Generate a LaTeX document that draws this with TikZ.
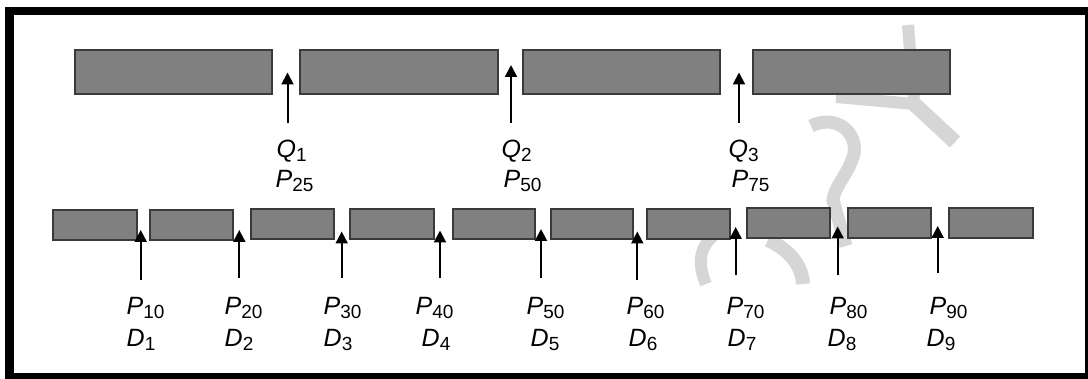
\documentclass[tikz,border=0pt]{standalone}
\usepackage{fontspec}
\setmainfont{Liberation Sans}
\usetikzlibrary{arrows.meta}

\definecolor{barfill}{HTML}{808080}
\definecolor{barline}{HTML}{3A3A3A}
\definecolor{wmgray}{HTML}{D6D6D6}

% italic letter with an upright, lowered index
\newcommand\idx[2]{\textit{#1}\raisebox{-4pt}{\fontsize{19}{19}\selectfont #2}}

\begin{document}
\begin{tikzpicture}[x=1pt,y=-1pt,
  bar/.style={draw=barline, fill=barfill, line width=1.6pt, inner sep=0pt,
              anchor=north west, minimum height=#1},
  bar/.default=30pt,
  arr/.style={line width=2pt, -{Triangle[width=12pt,length=12pt]}},
  lab/.style={anchor=base west, inner sep=0pt, font=\fontsize{25}{25}\selectfont},
  wm/.style={draw=wmgray, line width=14pt, line cap=butt}]

\useasboundingbox (0,0) rectangle (1088,379);

% frame
\fill[black] (5,7) rectangle (1088,379);
\fill[white] (14,15) rectangle (1085,373);

% faint background lettering
\draw[wm, line width=12pt] (908,25) -- (914,102);
\draw[wm, line width=12pt] (836,97) -- (914,104);
\draw[wm, line width=15pt] (912,102) -- (955,142);
\draw[wm, line width=13pt] (811,126) .. controls (840,112) and (862,138) .. (852,160)
      .. controls (846,176) and (834,188) .. (833,200) -- (846,246);
\draw[wm, line width=12pt] (713,236) .. controls (697,250) and (699,268) .. (706,284);
\draw[wm, line width=14pt] (768,240) .. controls (790,250) and (802,266) .. (803,284);

% quartile bars
\node[bar=44pt, minimum width=197pt] (t1) at (74,49) {};
\node[bar=44pt, minimum width=198pt] (t2) at (299,49) {};
\node[bar=44pt, minimum width=197pt] (t3) at (522,49) {};
\node[bar=44pt, minimum width=197pt] (t4) at (752,49) {};

% decile bars
\node[bar, minimum width=84pt] (b1)  at (52,209)  {};
\node[bar, minimum width=83pt] (b2)  at (149,209) {};
\node[bar, minimum width=83pt] (b3)  at (250,208) {};
\node[bar, minimum width=84pt] (b4)  at (349,208) {};
\node[bar, minimum width=82pt] (b5)  at (452,208) {};
\node[bar, minimum width=82pt] (b6)  at (550,208) {};
\node[bar, minimum width=83pt] (b7)  at (646,208) {};
\node[bar, minimum width=83pt] (b8)  at (746,207) {};
\node[bar, minimum width=83pt] (b9)  at (847,207) {};
\node[bar, minimum width=84pt] (b10) at (948,207) {};

% quartile cut points
\coordinate (q1s) at (287.5,123); \coordinate (q1e) at (287.5,72.5);
\coordinate (q2s) at (511,123);   \coordinate (q2e) at (511,65);
\coordinate (q3s) at (739,123);   \coordinate (q3e) at (739,72.5);
\draw[arr] (q1s) -- (q1e);
\draw[arr] (q2s) -- (q2e);
\draw[arr] (q3s) -- (q3e);

\node[lab] (lq1) at (276.5,158) {\idx{Q}{1}};
\node[lab] (lp25) at (275.5,188) {\idx{P}{25}};
\node[lab] (lq2) at (501.5,158) {\idx{Q}{2}};
\node[lab] (lp50a) at (503.5,188) {\idx{P}{50}};
\node[lab] (lq3) at (728.5,158) {\idx{Q}{3}};
\node[lab] (lp75) at (731.5,188) {\idx{P}{75}};

% decile cut points
\foreach \n/\x/\tip/\tail in {1/140.7/230/280.5, 2/239.3/230/278, 3/341.7/231.5/278,
    4/440/230.5/278, 5/541/229/278, 6/637.3/231.5/280, 7/735.7/227/275,
    8/837.7/226.5/275, 9/937.7/226/273}{
  \coordinate (d\n s) at (\x,\tail);
  \coordinate (d\n e) at (\x,\tip);
  \draw[arr] (d\n s) -- (d\n e);
}

\foreach \n/\px/\dx in {1/126.5/126.5, 2/224.5/224.5, 3/323.5/323.5, 4/415.5/421.5,
    5/526.5/530.5, 6/626.5/628.5, 7/726.5/727.5, 8/829.5/827.5, 9/929.5/926.5}{
  \node[lab] (lp\n) at (\px,315) {\idx{P}{\n0}};
  \node[lab] (ld\n) at (\dx,346.5) {\idx{D}{\n}};
}
\end{tikzpicture}
\end{document}
